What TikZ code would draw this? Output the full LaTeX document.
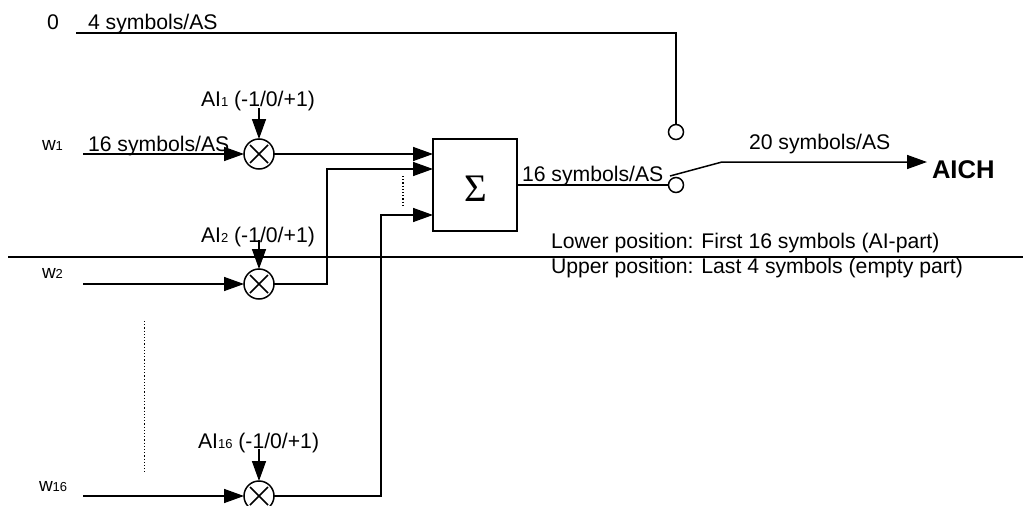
\documentclass[tikz,border=0pt]{standalone}
\usepackage{fontspec}
\setmainfont{Liberation Sans}
\usetikzlibrary{arrows.meta}
\newcommand{\subtxt}[1]{{\fontsize{13}{14}\selectfont #1}}
\begin{document}
\begin{tikzpicture}[x=1pt,y=-1pt,line width=1.5pt]
    \tikzset{
        lab/.style={anchor=base west,inner sep=0pt,outer sep=0pt,font=\fontsize{21.2}{25}\selectfont},
        wlab/.style={anchor=base west,inner sep=0pt,outer sep=0pt,font=\fontsize{19}{22}\selectfont},
        arr/.style={-{Triangle[length=20pt,width=14pt]}},
        mult/.style={draw,circle,minimum size=30pt,inner sep=0pt,outer sep=0pt,
            path picture={\draw (path picture bounding box.center) ++(-9pt,-9pt) -- ++(18pt,18pt)
                (path picture bounding box.center) ++(-9pt,9pt) -- ++(18pt,-18pt);}},
        contact/.style={draw,circle,minimum size=15pt,inner sep=0pt,outer sep=0pt},
    }
    \clip (0,0) rectangle (1023,506);
    \node[mult] (mult1) at (259,154) {};
    \node[mult] (mult2) at (259,284) {};
    \node[mult] (mult16) at (259,496) {};
    \node[draw,minimum width=84pt,minimum height=92pt,inner sep=0pt,outer sep=0pt] (sum) at (475,185) {};
    \node[inner sep=0pt] (sigma) at (475.5,188.5) {\fontsize{39}{39}\selectfont\setmainfont{Liberation Serif}Σ};
    \node[contact] (upper) at (676,132) {};
    \node[contact] (lower) at (676,185) {};
    \coordinate (zero) at (76,33);
    \coordinate (in1) at (83,154);
    \coordinate (in2) at (83,284);
    \coordinate (in16) at (83,496);
    \coordinate (ai1) at (259,108);
    \coordinate (ai2) at (259,240);
    \coordinate (ai16) at (259,449);
    \coordinate (armstart) at (670,176);
    \coordinate (armbend) at (722,162);
    \coordinate (aich) at (927,162);
    \draw (zero) -- (676,33) -- (upper);
    \foreach \n in {1,2,16} {
        \draw[arr] (in\n) -- (mult\n);
        \draw[arr] (ai\n) -- (mult\n);
    }
    \draw[arr] (mult1) -- (433,154);
    \draw[arr] (mult2) -- (327,284) -- (327,169) -- (433,169);
    \draw[arr] (mult16) -- (381,496) -- (381,215) -- (433,215);
    \draw (517,185) -- (lower);
    \draw[arr] (armstart) -- (armbend) -- (aich);
    \draw[line width=1.2pt,dotted] (403,176) -- (403,205);
    \draw[line width=1.2pt,dotted] (144.5,321) -- (144.5,472);
    \draw (8,257) -- (1023,257);
    \node[lab] (lzero) at (47,29) {0};
    \node[lab] (lfour) at (88,29) {4 symbols/AS};
    \node[wlab] (lw1) at (42,150) {w\subtxt{1}};
    \node[wlab] (lw2) at (42,278) {w\subtxt{2}};
    \node[wlab] (lw16) at (39,491) {w\subtxt{16}};
    \node[lab] (lsix) at (88,151) {16 symbols/AS};
    \node[lab] (lai1) at (201,106) {AI\subtxt{1} (-1/0/+1)};
    \node[lab] (lai2) at (201,242) {AI\subtxt{2} (-1/0/+1)};
    \node[lab] (lai16) at (198,448) {AI\subtxt{16} (-1/0/+1)};
    \node[lab] (lsum) at (522,181) {16 symbols/AS};
    \node[lab] (ltwenty) at (749,149) {20 symbols/AS};
    \node[lab,font=\fontsize{25.6}{28}\selectfont\bfseries] (laich) at (932,178) {AICH};
    \node[lab] (llower) at (551,248) {Lower position: First 16 symbols (AI-part)};
    \node[lab] (lupper) at (551,273) {Upper position: Last 4 symbols (empty part)};
\end{tikzpicture}
\end{document}
